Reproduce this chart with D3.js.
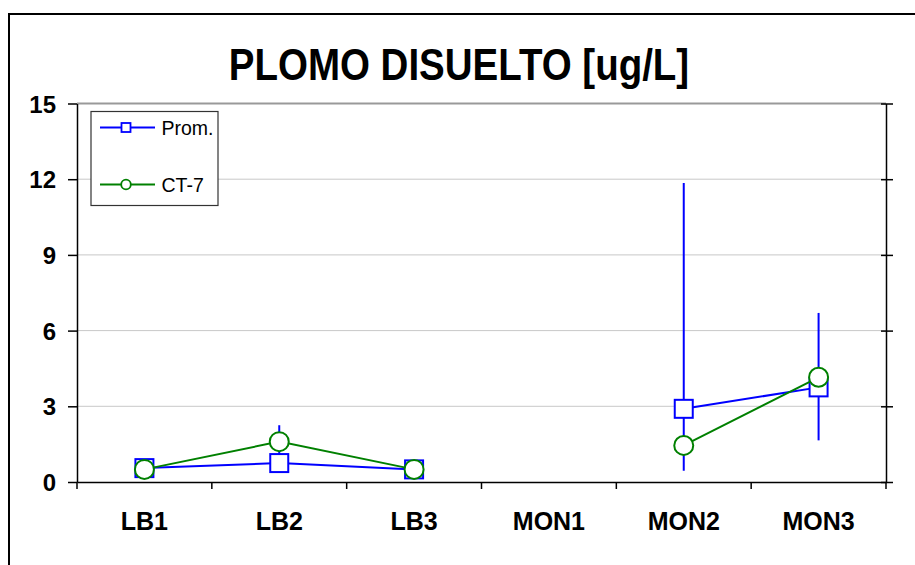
<!DOCTYPE html>
<html lang="es">
<head>
    <meta charset="UTF-8">
    <title>Plomo disuelto</title>
    <script src="https://d3js.org/d3.v7.min.js"></script>
    <style>
        body {
            margin: 0;
            padding: 0;
            background: #fff;
            font-family: "Liberation Sans", Arial, sans-serif;
        }
        .grid line {
            stroke: #c8c8c8;
            stroke-width: 1;
        }
        .axis path, .axis line {
            stroke: #000;
            stroke-width: 1.5;
        }
        .axis text {
            font-family: "Liberation Sans", Arial, sans-serif;
            font-weight: bold;
            fill: #000;
        }
    </style>
</head>
<body>
    <div id="chart"></div>
    <script>
        // values
        const categories = ["LB1", "LB2", "LB3", "MON1", "MON2", "MON3"];
        const promValues = [0.55, 0.75, 0.5, null, 2.9, 3.75];
        const promMin = [0.5, 0.45, 0.45, null, 0.45, 1.65];
        const promMax = [0.6, 2.25, 0.55, null, 11.85, 6.7];
        const ct7Values = [0.5, 1.6, 0.5, null, 1.45, 4.15];
        const yTicks = [0, 3, 6, 9, 12, 15];
        const seriesNames = ["Prom.", "CT-7"];

        const width = 915, height = 565;
        const plot = { left: 77, right: 886, top: 103.5, bottom: 482 };
        const blue = "#0000ff", green = "#008000";

        const svg = d3.select("#chart").append("svg")
            .attr("width", width)
            .attr("height", height);

        const x = d3.scaleBand()
            .domain(categories)
            .range([plot.left, plot.right]);

        const y = d3.scaleLinear()
            .domain([0, 15])
            .range([plot.bottom, plot.top]);

        // outer frame (runs off the right and bottom edges)
        svg.append("rect")
            .attr("x", 9).attr("y", 14)
            .attr("width", width).attr("height", height)
            .attr("fill", "none")
            .attr("stroke", "#000")
            .attr("stroke-width", 2);

        // title
        svg.append("text")
            .attr("transform", "translate(459,80) scale(1,1.13)")
            .attr("text-anchor", "middle")
            .attr("font-size", 38.5)
            .attr("font-weight", "bold")
            .text("PLOMO DISUELTO [ug/L]");

        // gridlines
        svg.append("g")
            .attr("class", "grid")
            .selectAll("line")
            .data(yTicks.filter(d => d > 0 && d < 15))
            .enter().append("line")
            .attr("x1", plot.left).attr("x2", plot.right)
            .attr("y1", d => y(d)).attr("y2", d => y(d));

        // top edge of plot area
        svg.append("line")
            .attr("x1", plot.left).attr("x2", plot.right)
            .attr("y1", y(15)).attr("y2", y(15))
            .attr("stroke", "#999")
            .attr("stroke-width", 2);

        // left axis
        const yAxis = svg.append("g")
            .attr("class", "axis")
            .attr("transform", `translate(${plot.left},0)`)
            .call(d3.axisLeft(y).tickValues(yTicks).tickSize(9).tickSizeOuter(0).tickPadding(12));
        yAxis.selectAll("text").attr("font-size", 24).attr("dy", "0.36em");

        // right axis, ticks cross the line
        const yAxisR = svg.append("g")
            .attr("class", "axis")
            .attr("transform", `translate(${plot.right},0)`)
            .call(d3.axisRight(y).tickValues(yTicks).tickSize(7).tickSizeOuter(0).tickFormat(""));
        yAxisR.selectAll(".tick line").attr("x1", -5);

        // bottom axis with labels centered in each band
        const xAxis = svg.append("g")
            .attr("class", "axis")
            .attr("transform", `translate(0,${plot.bottom})`)
            .call(d3.axisBottom(x).tickSize(0).tickSizeOuter(0).tickPadding(28));
        xAxis.selectAll("text").attr("font-size", 25).attr("transform", "scale(1,1.06)");

        // band boundary ticks
        const bounds = categories.map(c => x(c)).concat([plot.right]);
        svg.append("g")
            .selectAll("line")
            .data(bounds)
            .enter().append("line")
            .attr("x1", d => d).attr("x2", d => d)
            .attr("y1", plot.bottom).attr("y2", plot.bottom + 7)
            .attr("stroke", "#000")
            .attr("stroke-width", 1.5);

        const cx = c => x(c) + x.bandwidth() / 2;

        const promData = categories.map((c, i) => ({ c, v: promValues[i], lo: promMin[i], hi: promMax[i] }));
        const ctData = categories.map((c, i) => ({ c, v: ct7Values[i] }));

        const line = d3.line()
            .defined(d => d.v != null)
            .x(d => cx(d.c))
            .y(d => y(d.v));

        // Prom. error bars
        svg.append("g")
            .selectAll("line")
            .data(promData.filter(d => d.v != null))
            .enter().append("line")
            .attr("x1", d => cx(d.c)).attr("x2", d => cx(d.c))
            .attr("y1", d => y(d.lo)).attr("y2", d => y(d.hi))
            .attr("stroke", blue)
            .attr("stroke-width", 2);

        // Prom. series
        svg.append("path")
            .datum(promData)
            .attr("d", line)
            .attr("fill", "none")
            .attr("stroke", blue)
            .attr("stroke-width", 2);

        svg.append("g")
            .selectAll("rect")
            .data(promData.filter(d => d.v != null))
            .enter().append("rect")
            .attr("x", d => cx(d.c) - 9)
            .attr("y", d => y(d.v) - 9)
            .attr("width", 18).attr("height", 18)
            .attr("fill", "#fff")
            .attr("stroke", blue)
            .attr("stroke-width", 2);

        // CT-7 series
        svg.append("path")
            .datum(ctData)
            .attr("d", line)
            .attr("fill", "none")
            .attr("stroke", green)
            .attr("stroke-width", 2);

        svg.append("g")
            .selectAll("circle")
            .data(ctData.filter(d => d.v != null))
            .enter().append("circle")
            .attr("cx", d => cx(d.c))
            .attr("cy", d => y(d.v))
            .attr("r", 9.5)
            .attr("fill", "#fff")
            .attr("stroke", green)
            .attr("stroke-width", 2);

        // legend
        const legend = svg.append("g");
        legend.append("rect")
            .attr("x", 91).attr("y", 111.5)
            .attr("width", 127).attr("height", 94)
            .attr("fill", "#fff")
            .attr("stroke", "#333")
            .attr("stroke-width", 1.2);

        const rows = [
            { name: seriesNames[0], color: blue, shape: "square", y: 127.5 },
            { name: seriesNames[1], color: green, shape: "circle", y: 184.5 }
        ];
        rows.forEach(r => {
            legend.append("line")
                .attr("x1", 100).attr("x2", 155)
                .attr("y1", r.y).attr("y2", r.y)
                .attr("stroke", r.color)
                .attr("stroke-width", 2);
            if (r.shape === "square") {
                legend.append("rect")
                    .attr("x", 121.5).attr("y", r.y - 4.5)
                    .attr("width", 9).attr("height", 9)
                    .attr("fill", "#fff")
                    .attr("stroke", r.color)
                    .attr("stroke-width", 1.8);
            } else {
                legend.append("circle")
                    .attr("cx", 126).attr("cy", r.y)
                    .attr("r", 4.8)
                    .attr("fill", "#fff")
                    .attr("stroke", r.color)
                    .attr("stroke-width", 1.8);
            }
            legend.append("text")
                .attr("x", 161.5).attr("y", r.y + 7.5)
                .attr("font-size", 19.5)
                .attr("fill", "#000")
                .text(r.name);
        });
    </script>
</body>
</html>
